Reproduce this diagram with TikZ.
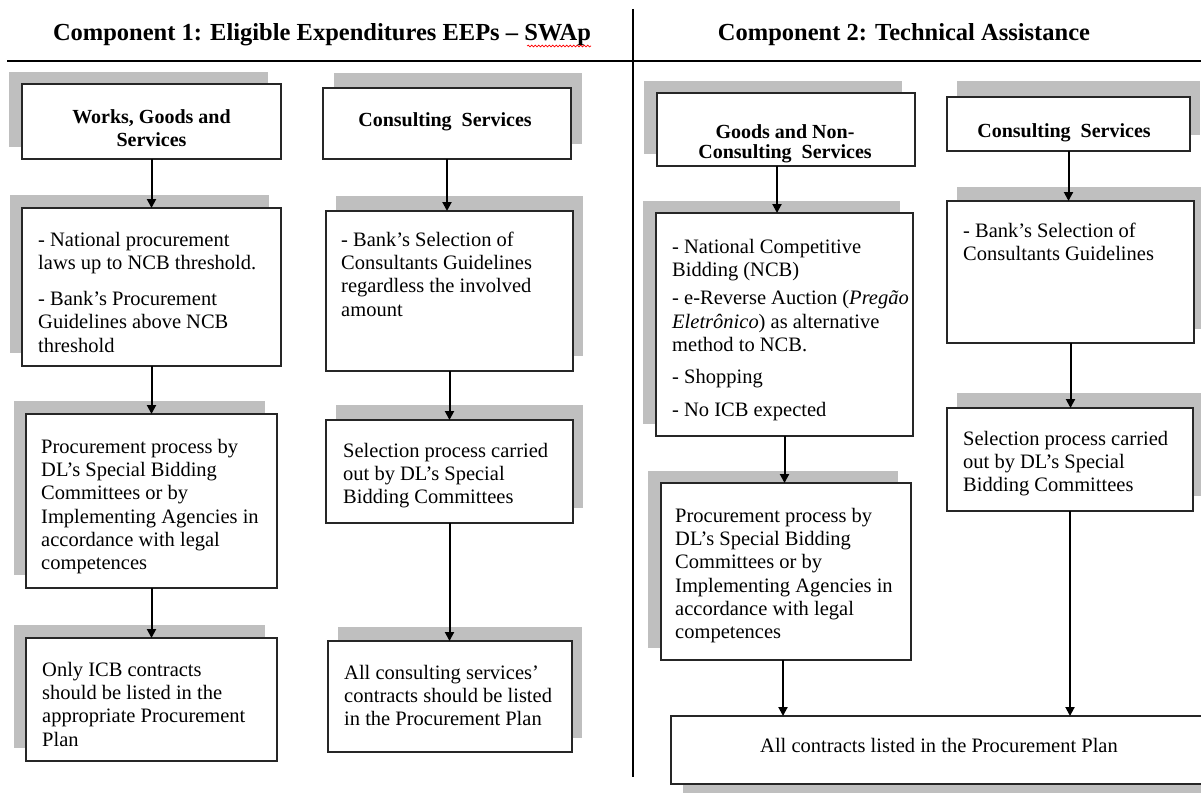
\documentclass[tikz,border=0pt]{standalone}
\usepackage{fontspec}
\setmainfont{Liberation Serif}
\usetikzlibrary{arrows.meta,backgrounds,decorations.pathmorphing}

\newcommand\bodysize{\fontsize{20.5pt}{23.3pt}\selectfont}
\newcommand\topstrut{\rule{0pt}{20pt}}

\begin{document}
\begin{tikzpicture}[x=1pt,y=-1pt,
  box/.style={draw=black!85,line width=1.2pt,fill=white,anchor=north west,inner sep=0pt,outer sep=0pt},
  shadowbox/.style={fill=black!25},
  body/.style={anchor=north west,align=left,inner sep=0pt,font={\bodysize\lineskiplimit=-100pt}},
  head/.style={align=center,inner sep=0pt,font={\fontsize{20pt}{23pt}\selectfont\bfseries\lineskiplimit=-100pt}},
  title/.style={anchor=base,inner sep=0pt,font={\fontsize{24.5pt}{28pt}\selectfont\bfseries}},
  flow/.style={-{Triangle[length=9pt,width=9pt]},line width=2pt},
  divider/.style={line width=1.6pt}
]
\useasboundingbox (0,0) rectangle (1201,792);

% ---- titles and dividing rules ----
\node[title] (t1) at (322,41) {Component 1: Eligible Expenditures EEPs – SWAp};
\node[title] (t2) at (904,41) {Component 2: Technical Assistance};
\draw[red,line width=0.7pt,decorate,decoration={snake,amplitude=0.9pt,segment length=3.5pt}]
  ([xshift=-64pt,yshift=-5pt]t1.base east) -- ([yshift=-5pt]t1.base east);

\coordinate (hl) at (7,61);
\coordinate (hr) at (1201,61);
\coordinate (vt) at (633,9);
\coordinate (vb) at (633,777);
\draw[divider] (hl) -- (hr);
\draw[divider] (vt) -- (vb);

% ---- boxes ----
% Component 1, first column
\node[box,minimum width=259pt,minimum height=75pt]  (works) at (22,84) {};
\node[box,minimum width=259pt,minimum height=158pt] (np)    at (22,208) {};
\node[box,minimum width=251pt,minimum height=174pt] (pp1)   at (26,414) {};
\node[box,minimum width=251pt,minimum height=123pt] (oi)    at (26,638) {};
% Component 1, second column
\node[box,minimum width=248pt,minimum height=71pt]  (c1)    at (323,88) {};
\node[box,minimum width=247pt,minimum height=160pt] (bs1)   at (326,211) {};
\node[box,minimum width=247pt,minimum height=103pt] (sp1)   at (326,420) {};
\node[box,minimum width=244pt,minimum height=111pt] (ac1)   at (328,641) {};
% Component 2, first column
\node[box,minimum width=258pt,minimum height=73pt]  (goods) at (657,93) {};
\node[box,minimum width=257pt,minimum height=223pt] (ncb)   at (656,213) {};
\node[box,minimum width=250pt,minimum height=177pt] (pp2)   at (661,483) {};
% Component 2, second column
\node[box,minimum width=243pt,minimum height=54pt]  (c2)    at (947,97) {};
\node[box,minimum width=247pt,minimum height=142pt] (bs2)   at (947,201) {};
\node[box,minimum width=246pt,minimum height=103pt] (sp2)   at (947,408) {};
% common final box
\node[box,minimum width=535pt,minimum height=68pt]  (ac2)   at (671,716) {};

% ---- shadows behind the boxes ----
\begin{pgfonlayer}{background}
  \fill[white] (0,0) rectangle (1201,792);
  \foreach \n/\dx/\dy in {works/-13/-12, np/-12/-13, pp1/-12/-13, oi/-12/-13,
                          c1/11/-15, bs1/10/-15, sp1/10/-15, ac1/10/-14,
                          goods/-13/-12, ncb/-13/-12, pp2/-13/-12,
                          c2/10/-16, bs2/10/-14, sp2/10/-15, ac2/12/12}
    \fill[shadowbox] ([shift={(\dx,\dy)}]\n.south west) rectangle ([shift={(\dx,\dy)}]\n.north east);
\end{pgfonlayer}

% ---- headings ----
\node[head,anchor=north] (worksT) at (151.5,103) {\topstrut Works, Goods and\\Services};
\node[head,anchor=base]  (c1T)    at (445,126)   {Consulting\ \ Services};
\node[head,anchor=north,font={\fontsize{20pt}{20pt}\selectfont\bfseries\lineskiplimit=-100pt}] (goodsT) at (785,118)
  {\topstrut Goods and Non-\\Consulting\ \ Services};
\node[head,anchor=base]  (c2T)    at (1064,137)  {Consulting\ \ Services};

% ---- box texts ----
\node[body] (npT) at (38,226) {\topstrut- National procurement\\laws up to NCB threshold.\\[12.7pt]- Bank’s Procurement\\Guidelines above NCB\\threshold};
\node[body] (pp1T) at (41,433) {\topstrut Procurement process by\\DL’s Special Bidding\\Committees or by\\Implementing Agencies in\\accordance with legal\\competences};
\node[body] (oiT) at (42,656) {\topstrut Only ICB contracts\\should be listed in the\\appropriate Procurement\\Plan};

\node[body] (bs1T) at (341,226) {\topstrut- Bank’s Selection of\\Consultants Guidelines\\regardless the involved\\amount};
\node[body] (sp1T) at (343,437) {\topstrut Selection process carried\\out by DL’s Special\\Bidding Committees};
\node[body] (ac1T) at (344,659) {\topstrut All consulting services’\\contracts should be listed\\in the Procurement Plan};

\node[body] (ncbT) at (672,233) {\topstrut- National Competitive\\Bidding (NCB)\\[5pt]- e-Reverse Auction (\textit{Pregão}\\\textit{Eletrônico}) as alternative\\method to NCB.\\[9pt]- Shopping\\[9.5pt]- No ICB expected};
\node[body] (pp2T) at (675,502) {\topstrut Procurement process by\\DL’s Special Bidding\\Committees or by\\Implementing Agencies in\\accordance with legal\\competences};

\node[body] (bs2T) at (963,217) {\topstrut- Bank’s Selection of\\Consultants Guidelines};
\node[body] (sp2T) at (963,425) {\topstrut Selection process carried\\out by DL’s Special\\Bidding Committees};

\node[anchor=base,inner sep=0pt,font=\bodysize] (ac2T) at (939,752) {All contracts listed in the Procurement Plan};

% ---- connectors ----
\draw[flow] (works.south) -- (np.north);
\draw[flow] (np.south) -- (pp1.north);
\draw[flow] (pp1.south) -- (oi.north);
\draw[flow] (c1.south) -- (c1.south |- bs1.north);
\draw[flow] (bs1.south) -- (bs1.south |- sp1.north);
\draw[flow] (sp1.south) -- (sp1.south |- ac1.north);
\draw[flow] ([xshift=-9pt]goods.south) -- ([xshift=-9pt]goods.south |- ncb.north);
\draw[flow] (ncb.south) -- (ncb.south |- pp2.north);
\draw[flow] ([xshift=-3pt]pp2.south) -- ([xshift=-3pt]pp2.south |- ac2.north);
\draw[flow] (c2.south) -- (c2.south |- bs2.north);
\draw[flow] (bs2.south) -- (bs2.south |- sp2.north);
\draw[flow] (sp2.south) -- (sp2.south |- ac2.north);
\end{tikzpicture}
\end{document}
